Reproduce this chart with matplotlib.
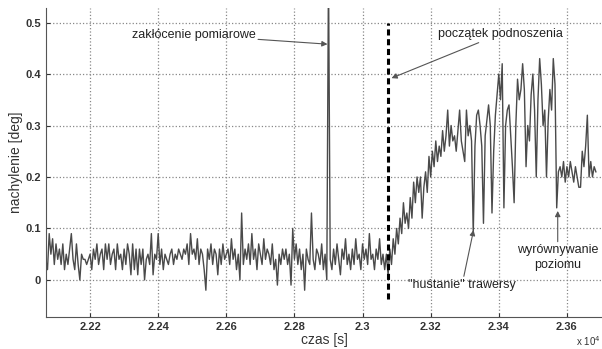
import numpy as np
import matplotlib.pyplot as plt

# czas w jednostkach x 10^4 s, probkowanie co 0.0005
t0 = 2.207
dt = 0.0005

nachylenie = [
    # 2.207 - 2.217
    0.04, 0.02, 0.09, 0.05, 0.08, 0.03, 0.07, 0.04, 0.06, 0.03, 0.07, 0.02, 0.05, 0.03, 0.06, 0.09, 0.04, 0.02, 0.07, 0.03,
    # 2.217 - 2.227
    0.00, 0.05, 0.04, 0.04, 0.03, 0.04, 0.05, 0.02, 0.06, 0.04, 0.07, 0.03, 0.05, 0.06, 0.02, 0.07, 0.04, 0.07, 0.03, 0.05,
    # 2.227 - 2.237
    0.06, 0.02, 0.07, 0.04, 0.05, 0.02, 0.06, 0.03, 0.07, 0.05, 0.01, 0.07, 0.02, 0.06, 0.01, 0.06, 0.03, 0.06, 0.00, 0.04,
    # 2.237 - 2.247
    0.05, 0.03, 0.09, 0.01, 0.05, 0.04, 0.09, 0.03, 0.06, 0.02, 0.05, 0.04, 0.03, 0.05, 0.06, 0.03, 0.05, 0.04, 0.06, 0.05,
    # 2.247 - 2.257
    0.04, 0.06, 0.05, 0.07, 0.03, 0.09, 0.05, 0.06, 0.04, 0.08, 0.03, 0.06, 0.05, 0.02, -0.02, 0.06, 0.04, 0.07, 0.03, 0.06,
    # 2.257 - 2.267
    0.05, 0.01, 0.06, 0.03, 0.07, 0.04, 0.05, 0.06, 0.03, 0.08, 0.04, 0.06, 0.02, 0.05, 0.00, 0.13, 0.03, 0.06, 0.04, 0.07,
    # 2.267 - 2.277
    0.03, 0.09, 0.04, 0.06, 0.02, 0.07, 0.05, 0.03, 0.08, 0.04, 0.06, 0.05, 0.03, 0.07, 0.02, 0.04, -0.01, 0.05, 0.03, 0.06,
    # 2.277 - 2.287
    0.04, 0.06, 0.03, 0.05, -0.01, 0.10, 0.04, 0.07, 0.03, 0.06, 0.02, 0.05, -0.02, 0.06, 0.04, 0.03, 0.13, 0.04, 0.02, 0.06,
    # 2.287 - 2.297 (zaklocenie)
    0.05, 0.03, 0.07, 0.02, 0.05, 0.00, 0.60, 0.04, 0.02, 0.06, 0.03, 0.07, 0.04, 0.01, 0.06, 0.04, 0.08, 0.03, 0.05, 0.02,
    # 2.297 - 2.307
    0.06, 0.03, 0.08, 0.04, 0.05, 0.02, 0.07, 0.04, 0.06, 0.03, 0.09, 0.04, 0.05, 0.02, 0.06, 0.04, 0.08, 0.03, 0.05, 0.02,
    # 2.307 - 2.317 (podnoszenie)
    0.05, 0.01, 0.06, 0.03, 0.08, 0.05, 0.10, 0.07, 0.12, 0.09, 0.15, 0.11, 0.13, 0.10, 0.16, 0.12, 0.19, 0.15, 0.20, 0.17,
    # 2.317 - 2.327
    0.20, 0.12, 0.18, 0.21, 0.17, 0.24, 0.20, 0.25, 0.22, 0.27, 0.23, 0.26, 0.24, 0.29, 0.25, 0.28, 0.33, 0.26, 0.30, 0.27,
    # 2.327 - 2.337
    0.28, 0.25, 0.29, 0.33, 0.27, 0.25, 0.23, 0.33, 0.28, 0.30, 0.27, 0.09, 0.26, 0.32, 0.33, 0.30, 0.26, 0.11, 0.28, 0.31,
    # 2.337 - 2.347
    0.34, 0.30, 0.13, 0.25, 0.32, 0.36, 0.40, 0.35, 0.42, 0.14, 0.30, 0.33, 0.34, 0.28, 0.22, 0.15, 0.30, 0.39, 0.35, 0.37,
    # 2.347 - 2.357
    0.42, 0.37, 0.22, 0.30, 0.27, 0.36, 0.40, 0.33, 0.20, 0.35, 0.43, 0.38, 0.30, 0.33, 0.20, 0.31, 0.37, 0.33, 0.43, 0.38,
    # 2.357 - 2.367 (wyrownywanie)
    0.14, 0.21, 0.22, 0.20, 0.23, 0.19, 0.22, 0.20, 0.23, 0.21, 0.19, 0.22, 0.20, 0.18, 0.18, 0.25, 0.22, 0.26, 0.32, 0.20,
    # 2.367 - 2.369
    0.23, 0.20, 0.22, 0.21,
]
czas = t0 + dt * np.arange(len(nachylenie))

t_start = 2.3076
xticks = [2.22, 2.24, 2.26, 2.28, 2.30, 2.32, 2.34, 2.36]
xticklabels = ['2.22', '2.24', '2.26', '2.28', '2.3', '2.32', '2.34', '2.36']
yticks = [0, 0.1, 0.2, 0.3, 0.4, 0.5]
yticklabels = ['0', '0.1', '0.2', '0.3', '0.4', '0.5']

plt.rcParams['font.family'] = ['Liberation Sans', 'DejaVu Sans']

fig = plt.figure(figsize=(6.02, 3.49), dpi=100)
ax = fig.add_axes([0.0764, 0.0917, 0.9236, 0.885])

ax.plot(czas, nachylenie, color='#4a4a4a', lw=1.0)
ax.plot([t_start, t_start], [-0.037, 0.5], color='black', lw=2.2, ls=(0, (2.0, 1.2)))

ax.set_xlim(2.20706, 2.3703)
ax.set_ylim(-0.072, 0.528)
ax.set_xticks(xticks)
ax.set_xticklabels(xticklabels)
ax.set_yticks(yticks)
ax.set_yticklabels(yticklabels)
ax.tick_params(direction='in', length=3, labelsize=8, colors='#333333')
for lbl in ax.get_xticklabels() + ax.get_yticklabels():
    lbl.set_fontweight('bold')
ax.grid(True, ls=':', color='#888888', lw=0.9)
ax.spines['top'].set_visible(False)
ax.spines['right'].set_visible(False)
ax.spines['left'].set_color('#555555')
ax.spines['bottom'].set_color('#555555')

ax.set_xlabel('czas [s]', fontsize=10, color='#333333', labelpad=1)
ax.set_ylabel('nachylenie [deg]', fontsize=10, color='#333333', labelpad=2)
fig.text(0.998, 0.004, r'x 10$^4$', fontsize=7, ha='right', va='bottom', color='#333333')

arrow = dict(arrowstyle='-|>', color='#555555', lw=0.8, mutation_scale=8, shrinkA=0, shrinkB=0)
ax.annotate('zakłócenie pomiarowe', xy=(2.2897, 0.458), xytext=(2.2685, 0.476),
            fontsize=9, ha='right', va='center', color='#222222', arrowprops=arrow)
ax.annotate('początek podnoszenia', xy=(2.3085, 0.392), xytext=(2.3221, 0.478),
            fontsize=9, ha='left', va='center', color='#222222', arrowprops=arrow)
ax.annotate('"huśtanie" trawersy', xy=(2.3326, 0.097), xytext=(2.3292, -0.01),
            fontsize=9, ha='center', va='center', color='#222222', arrowprops=arrow)
ax.annotate('wyrównywanie\npoziomu', xy=(2.3573, 0.134), xytext=(2.3573, 0.043),
            fontsize=9, ha='center', va='center', color='#222222', linespacing=1.3,
            arrowprops=dict(arrow, relpos=(0.5, 1.0)))

fig.savefig('out.png', dpi=100)
